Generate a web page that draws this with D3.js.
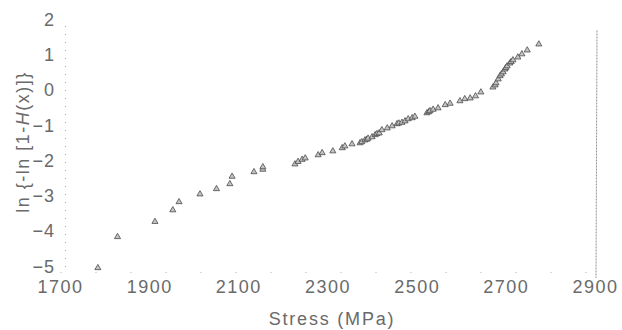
<!DOCTYPE html>
<html>
<head>
<meta charset="utf-8">
<script src="https://cdn.jsdelivr.net/npm/d3@7"></script>
<style>
  body { margin: 0; background: #fff; }
  svg text { font-family: "Liberation Sans", Arial, sans-serif; fill: #6a6a6a; }
</style>
</head>
<body>
<script>
// Weibull plot: stress vs ln{-ln[1-H(x)]}
const stress = [
  1785, 1829, 1913, 1953, 1967, 2014, 2051, 2081, 2086, 2135, 2155, 2155,
  2227, 2234, 2243, 2250, 2279, 2288, 2312, 2333, 2339, 2355, 2373, 2377,
  2384, 2388, 2391, 2400, 2407, 2411, 2416, 2422, 2434, 2445, 2456, 2460,
  2467, 2474, 2481, 2490, 2496, 2523, 2527, 2530, 2537, 2548, 2564, 2575,
  2597, 2608, 2620, 2632, 2644, 2671, 2676, 2678, 2683, 2687, 2690, 2694,
  2698, 2700, 2703, 2709, 2712, 2716, 2727, 2736, 2748, 2774
]
const weibull = [
  -5.04, -4.16, -3.73, -3.40, -3.17, -2.95, -2.80, -2.66, -2.45, -2.32, -2.25, -2.18,
  -2.10, -2.03, -1.97, -1.93, -1.84, -1.78, -1.73, -1.64, -1.59, -1.53, -1.50, -1.47,
  -1.42, -1.40, -1.37, -1.33, -1.27, -1.24, -1.22, -1.13, -1.08, -1.02, -0.96, -0.94,
  -0.92, -0.88, -0.82, -0.79, -0.75, -0.65, -0.62, -0.59, -0.55, -0.51, -0.42, -0.38,
  -0.31, -0.25, -0.23, -0.17, -0.06, 0.08, 0.14, 0.20, 0.31, 0.40, 0.45, 0.51,
  0.59, 0.63, 0.68, 0.76, 0.80, 0.85, 0.93, 1.02, 1.13, 1.30
]
const xTicks = [1700, 1900, 2100, 2300, 2500, 2700, 2900]
const yTicks = [2, 1, 0, -1, -2, -3, -4, -5]

const width = 622, height = 330

const svg = d3.select("body").append("svg")
  .attr("width", width)
  .attr("height", height)

const x = d3.scaleLinear().domain([1700, 2900]).range([60, 595])
const y = d3.scaleLinear().domain([-5, 2]).range([266.5, 19.5])

// left axis (faint dotted)
svg.append("g")
  .attr("transform", "translate(65,0)")
  .call(d3.axisLeft(y).tickValues(yTicks).tickSize(0).tickPadding(10).tickFormat(d3.format("d")))
  .call(g => g.select(".domain").attr("stroke", "#a5a5a5").attr("stroke-dasharray", "1,7"))
  .call(g => g.selectAll("text").style("font-size", "18px").style("letter-spacing", "1px"))

// bottom axis (very sparse dots)
svg.append("g")
  .attr("transform", "translate(0,272)")
  .call(d3.axisBottom(x).tickValues(xTicks).tickSize(0).tickPadding(8).tickFormat(d3.format("d")))
  .call(g => g.select(".domain").attr("stroke", "#b0b0b0").attr("stroke-dasharray", "1,34"))
  .call(g => g.selectAll("text").style("font-size", "18px").style("letter-spacing", "1.5px"))

// right frame line
svg.append("line")
  .attr("x1", x(2900) + 2).attr("x2", x(2900) + 1)
  .attr("y1", y(2) + 11).attr("y2", 278)
  .attr("stroke", "#909090")
  .attr("stroke-width", 1)
  .attr("stroke-dasharray", "2,1")

// points
const tri = d3.symbol().type(d3.symbolTriangle).size(16)
svg.append("g")
  .selectAll("path")
  .data(stress.map((s, i) => [s, weibull[i]]))
  .join("path")
  .attr("transform", d => `translate(${x(d[0])},${y(d[1])})`)
  .attr("d", tri)
  .attr("fill", "#c4c4c4")
  .attr("stroke", "#4a4a4a")
  .attr("stroke-width", 0.8)

// axis titles
svg.append("text")
  .attr("x", 332).attr("y", 325)
  .attr("text-anchor", "middle")
  .style("font-size", "18px")
  .style("letter-spacing", "1.8px")
  .text("Stress (MPa)")

const yl = svg.append("text")
  .attr("transform", "translate(23,142) rotate(-90)")
  .attr("text-anchor", "middle")
  .attr("dy", "0.35em")
  .style("font-size", "18px")
  .style("letter-spacing", "1.5px")
yl.append("tspan").text("ln {-ln [1-")
yl.append("tspan").style("font-style", "italic").text("H")
yl.append("tspan").text("(x)]}")
</script>
</body>
</html>
